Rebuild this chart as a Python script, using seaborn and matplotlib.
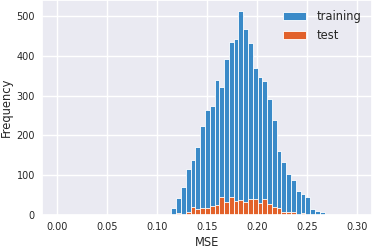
import numpy as np
import pandas as pd
import matplotlib
matplotlib.use("Agg")
import matplotlib.pyplot as plt
import seaborn as sns

# histogram bins (MSE)
bin_left = 0.1099
bin_width = 0.00478
train_counts = [1, 17, 43, 70, 116, 137, 171, 224, 263, 275, 339, 322, 392, 434, 443,
                513, 466, 432, 369, 347, 337, 291, 238, 160, 134, 103, 89, 60, 54, 46,
                14, 10, 7, 2]
test_counts = [0, 0, 4, 0, 7, 19, 14, 18, 17, 22, 25, 45, 32, 44, 36,
               37, 33, 39, 40, 29, 40, 28, 19, 18, 7, 8, 7, 0, 4, 0,
               0, 0, 0, 0]
x_ticks = [0.00, 0.05, 0.10, 0.15, 0.20, 0.25, 0.30]
y_ticks = [0, 100, 200, 300, 400, 500]

n = len(train_counts)
edges = bin_left + bin_width * np.arange(n + 1)
centers = (edges[:-1] + edges[1:]) / 2
df = pd.DataFrame({"mse": centers,
                   "train": np.asarray(train_counts, dtype=float),
                   "test": np.asarray(test_counts, dtype=float)})

sns.set_theme(style="darkgrid")
plt.rcParams['font.family'] = ['DejaVu Sans']

fig = plt.figure(figsize=(3.73, 2.48), dpi=100)
ax = fig.add_axes([0.112, 0.133, 0.885, 0.867])

brange = (float(edges[0]), float(edges[-1]))
sns.histplot(data=df, x="mse", weights="train", bins=n, binrange=brange, ax=ax,
             color="#3a8ac8", alpha=1, edgecolor="white", linewidth=0.6,
             label="training")
sns.histplot(data=df, x="mse", weights="test", bins=n, binrange=brange, ax=ax,
             color="#e2612a", alpha=1, edgecolor="white", linewidth=0.6,
             label="test")

ax.set_xlim(-0.015, 0.315)
ax.set_ylim(0, 540)
ax.set_xticks(x_ticks)
ax.set_xticklabels([f"{t:.2f}" for t in x_ticks])
ax.set_yticks(y_ticks)
ax.tick_params(labelsize=7, length=0, pad=5)
ax.set_xlabel("MSE", fontsize=8.3)
ax.set_ylabel("Frequency", fontsize=8.3)
ax.xaxis.set_label_coords(0.5, -0.143)
ax.xaxis.label.set_verticalalignment("baseline")
ax.yaxis.set_label_coords(-0.098, 0.5)
ax.yaxis.label.set_verticalalignment("baseline")
ax.legend(loc="upper right", frameon=False, fontsize=8.3,
          handletextpad=0.9)

fig.savefig("out.png", dpi=100)
